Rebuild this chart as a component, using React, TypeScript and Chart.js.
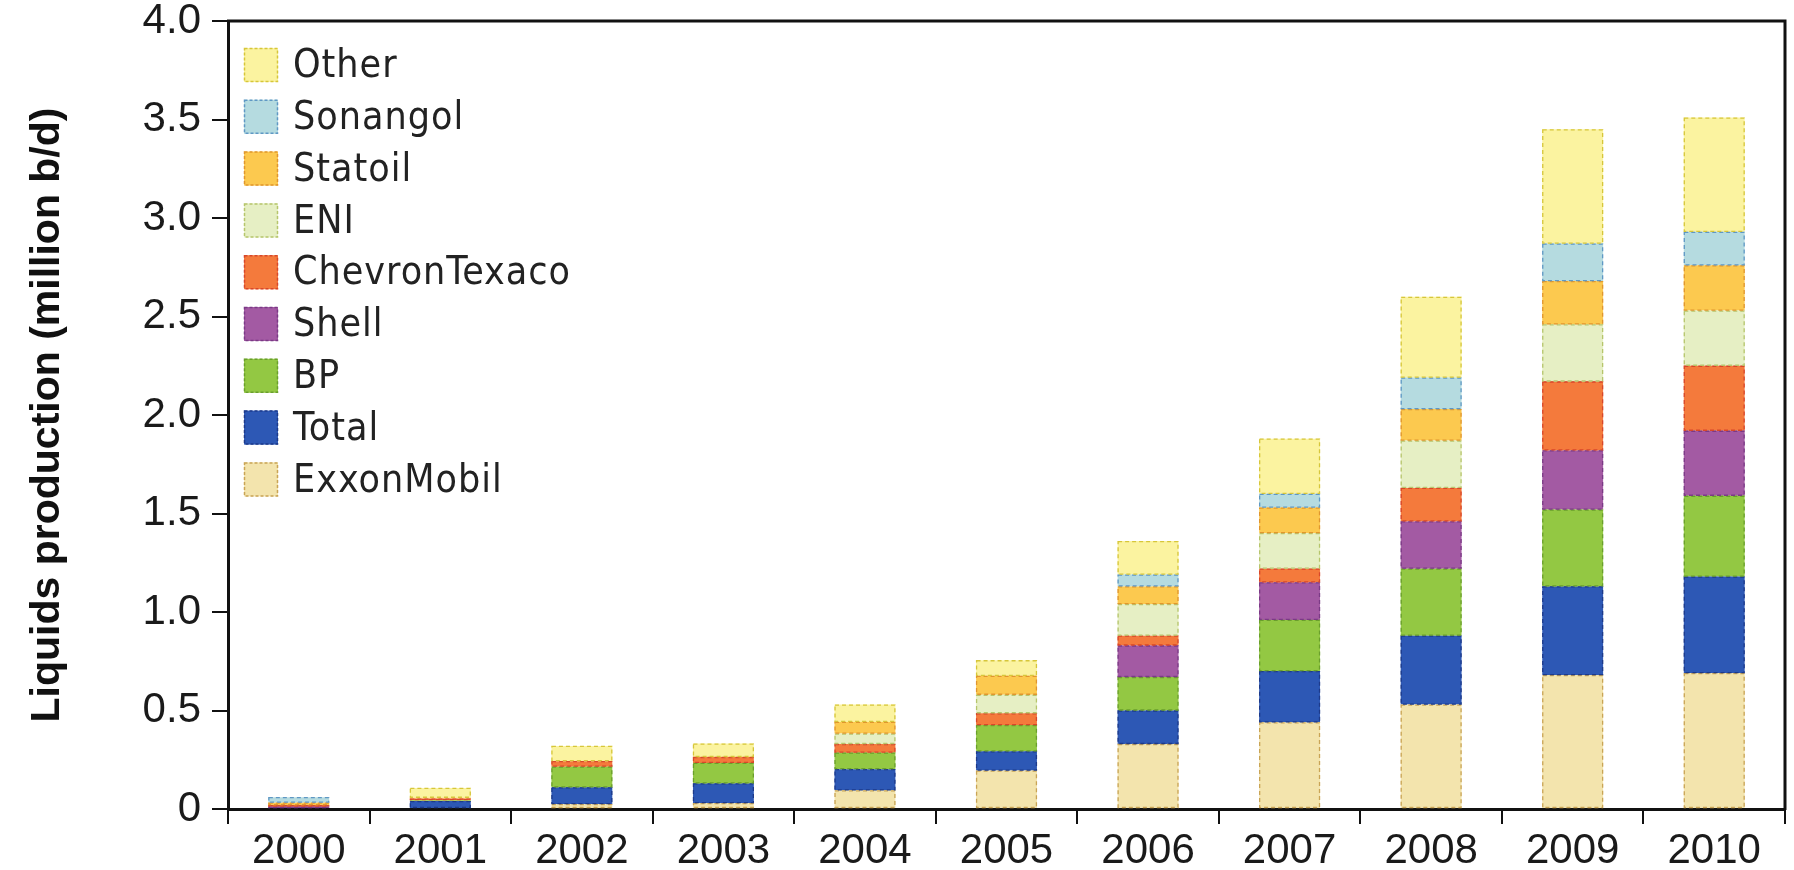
import React, { useEffect, useRef } from 'react';
import { Chart, registerables } from 'chart.js';

Chart.register(...registerables);

// ---- data (million b/d) ----
const years = ['2000', '2001', '2002', '2003', '2004', '2005', '2006', '2007', '2008', '2009', '2010'];

const exxonMobil = [0, 0.005, 0.025, 0.03, 0.095, 0.195, 0.33, 0.44, 0.53, 0.68, 0.69];
const total = [0.005, 0.035, 0.085, 0.1, 0.107, 0.098, 0.17, 0.26, 0.35, 0.45, 0.49];
const bp = [0, 0.005, 0.105, 0.104, 0.084, 0.133, 0.17, 0.26, 0.34, 0.39, 0.41];
const shell = [0.007, 0, 0, 0, 0, 0, 0.16, 0.19, 0.24, 0.3, 0.33];
const chevronTexaco = [0.008, 0.008, 0.028, 0.03, 0.044, 0.06, 0.05, 0.07, 0.17, 0.35, 0.33];
const eni = [0, 0, 0, 0, 0.053, 0.094, 0.16, 0.18, 0.24, 0.29, 0.28];
const statoil = [0.012, 0.004, 0, 0, 0.059, 0.096, 0.09, 0.13, 0.16, 0.22, 0.23];
const sonangol = [0.028, 0, 0, 0, 0, 0, 0.06, 0.07, 0.16, 0.19, 0.17];
const other = [0, 0.05, 0.077, 0.068, 0.088, 0.079, 0.17, 0.28, 0.41, 0.58, 0.58];

const seriesNames = ['ExxonMobil', 'Total', 'BP', 'Shell', 'ChevronTexaco', 'ENI', 'Statoil', 'Sonangol', 'Other'];
const seriesValues = [exxonMobil, total, bp, shell, chevronTexaco, eni, statoil, sonangol, other];
const fillColors = ['#f3e4ad', '#2d58b5', '#93c843', '#a35aa3', '#f47a3c', '#e6efc4', '#fcc94f', '#b5dbe0', '#fbf3a0'];
const edgeColors = ['#c9a455', '#1d3a8a', '#6a9f2c', '#7b3a86', '#d8472a', '#b6c56c', '#e0962e', '#5f98c4', '#d6c63a'];

const yTickValues = [0, 0.5, 1.0, 1.5, 2.0, 2.5, 3.0, 3.5, 4.0];
const yTitle = 'Liquids production (million b/d)';

const SANS = '"Liberation Sans", Arial, Helvetica, sans-serif';
const NARROW = '"Liberation Sans Narrow", "DejaVu Sans Condensed", "Liberation Sans", Arial, sans-serif';

const barOutlines = {
  id: 'barOutlines',
  afterDatasetsDraw(chart: any) {
    const ctx = chart.ctx;
    ctx.save();
    chart.data.datasets.forEach((ds: any, i: number) => {
      const meta = chart.getDatasetMeta(i);
      meta.data.forEach((el: any) => {
        const { x, y, base, width } = el.getProps(['x', 'y', 'base', 'width'], true);
        const h = Math.abs(base - y);
        if (h < 1) return;
        ctx.setLineDash([4, 3]);
        ctx.lineWidth = 1.3;
        ctx.strokeStyle = ds.borderColor;
        ctx.strokeRect(x - width / 2 + 0.5, Math.min(y, base) + 0.5, width - 1, h - 1);
      });
    });
    ctx.restore();
  },
};

const frame = {
  id: 'frame',
  afterDraw(chart: any) {
    const { ctx, chartArea } = chart;
    ctx.save();
    ctx.strokeStyle = '#111';
    ctx.lineWidth = 3;
    ctx.beginPath();
    ctx.moveTo(chartArea.left - 1, chartArea.top);
    ctx.lineTo(chartArea.right, chartArea.top);
    ctx.lineTo(chartArea.right, chartArea.bottom + 1);
    ctx.stroke();
    ctx.restore();
  },
};

const insideLegend = {
  id: 'insideLegend',
  afterDraw(chart: any) {
    const { ctx, chartArea } = chart;
    const ds = chart.data.datasets;
    const left = chartArea.left + 16;
    let top = chartArea.top + 27;
    const box = 34;
    ctx.save();
    for (let i = ds.length - 1; i >= 0; i--) {
      const d = ds[i];
      ctx.fillStyle = d.backgroundColor;
      ctx.fillRect(left, top, box, box);
      ctx.setLineDash([3, 2]);
      ctx.lineWidth = 1.5;
      ctx.strokeStyle = d.borderColor;
      ctx.strokeRect(left + 0.5, top + 0.5, box - 1, box - 1);
      ctx.setLineDash([]);
      ctx.fillStyle = '#222';
      ctx.font = '39px ' + NARROW;
      try { (ctx as any).letterSpacing = '1px'; } catch (e) {}
      ctx.textBaseline = 'middle';
      ctx.textAlign = 'left';
      ctx.fillText(d.label, left + 49, top + box / 2 + 2);
      try { (ctx as any).letterSpacing = '0px'; } catch (e) {}
      top += 51.8;
    }
    ctx.restore();
  },
};

export default function App() {
  const ref = useRef<HTMLCanvasElement | null>(null);

  useEffect(() => {
    if (!ref.current) return;
    const chart = new Chart(ref.current, {
      type: 'bar',
      data: {
        labels: years,
        datasets: seriesNames.map((name, i) => ({
          label: name,
          data: seriesValues[i],
          backgroundColor: fillColors[i],
          borderColor: edgeColors[i],
          borderWidth: 0,
          categoryPercentage: 1,
          barPercentage: 0.43,
        })),
      },
      options: {
        responsive: false,
        animation: false,
        layout: { padding: { top: 0, right: 9, bottom: 0, left: 0 } },
        plugins: {
          legend: { display: false },
          tooltip: { enabled: false },
        },
        scales: {
          x: {
            stacked: true,
            grid: { offset: true, drawOnChartArea: false, drawTicks: true, tickLength: 15, color: '#111', lineWidth: 2 },
            border: { display: true, color: '#111', width: 3 },
            ticks: { color: '#1a1a1a', font: { size: 42, family: SANS }, padding: 2, maxRotation: 0 },
            afterFit: (s: any) => { s.height = 61; },
          },
          y: {
            stacked: true,
            min: 0,
            max: 4,
            afterBuildTicks: (s: any) => { s.ticks = yTickValues.map((v) => ({ value: v })); },
            grid: { drawOnChartArea: false, drawTicks: true, tickLength: 16, color: '#111', lineWidth: 2 },
            border: { display: true, color: '#111', width: 3 },
            ticks: {
              color: '#1a1a1a',
              font: { size: 42, family: SANS, lineHeight: 1 },
              padding: 11,
              callback: (v: any) => (Number(v) === 0 ? '0' : Number(v).toFixed(1)),
            },
            title: {
              display: true,
              text: yTitle,
              color: '#111',
              font: { size: 41, weight: 'bold', family: SANS },
              padding: { top: 23, bottom: 0 },
            },
            afterFit: (s: any) => { s.width = 228; s.paddingTop = 21; },
          },
        },
      },
      plugins: [barOutlines, frame, insideLegend],
    });
    return () => chart.destroy();
  }, []);

  return (
    <div style={{ position: 'fixed', left: 0, top: 0, width: 1794, height: 870, background: '#fff' }}>
      <canvas ref={ref} width={1794} height={870} style={{ display: 'block' }} />
    </div>
  );
}
